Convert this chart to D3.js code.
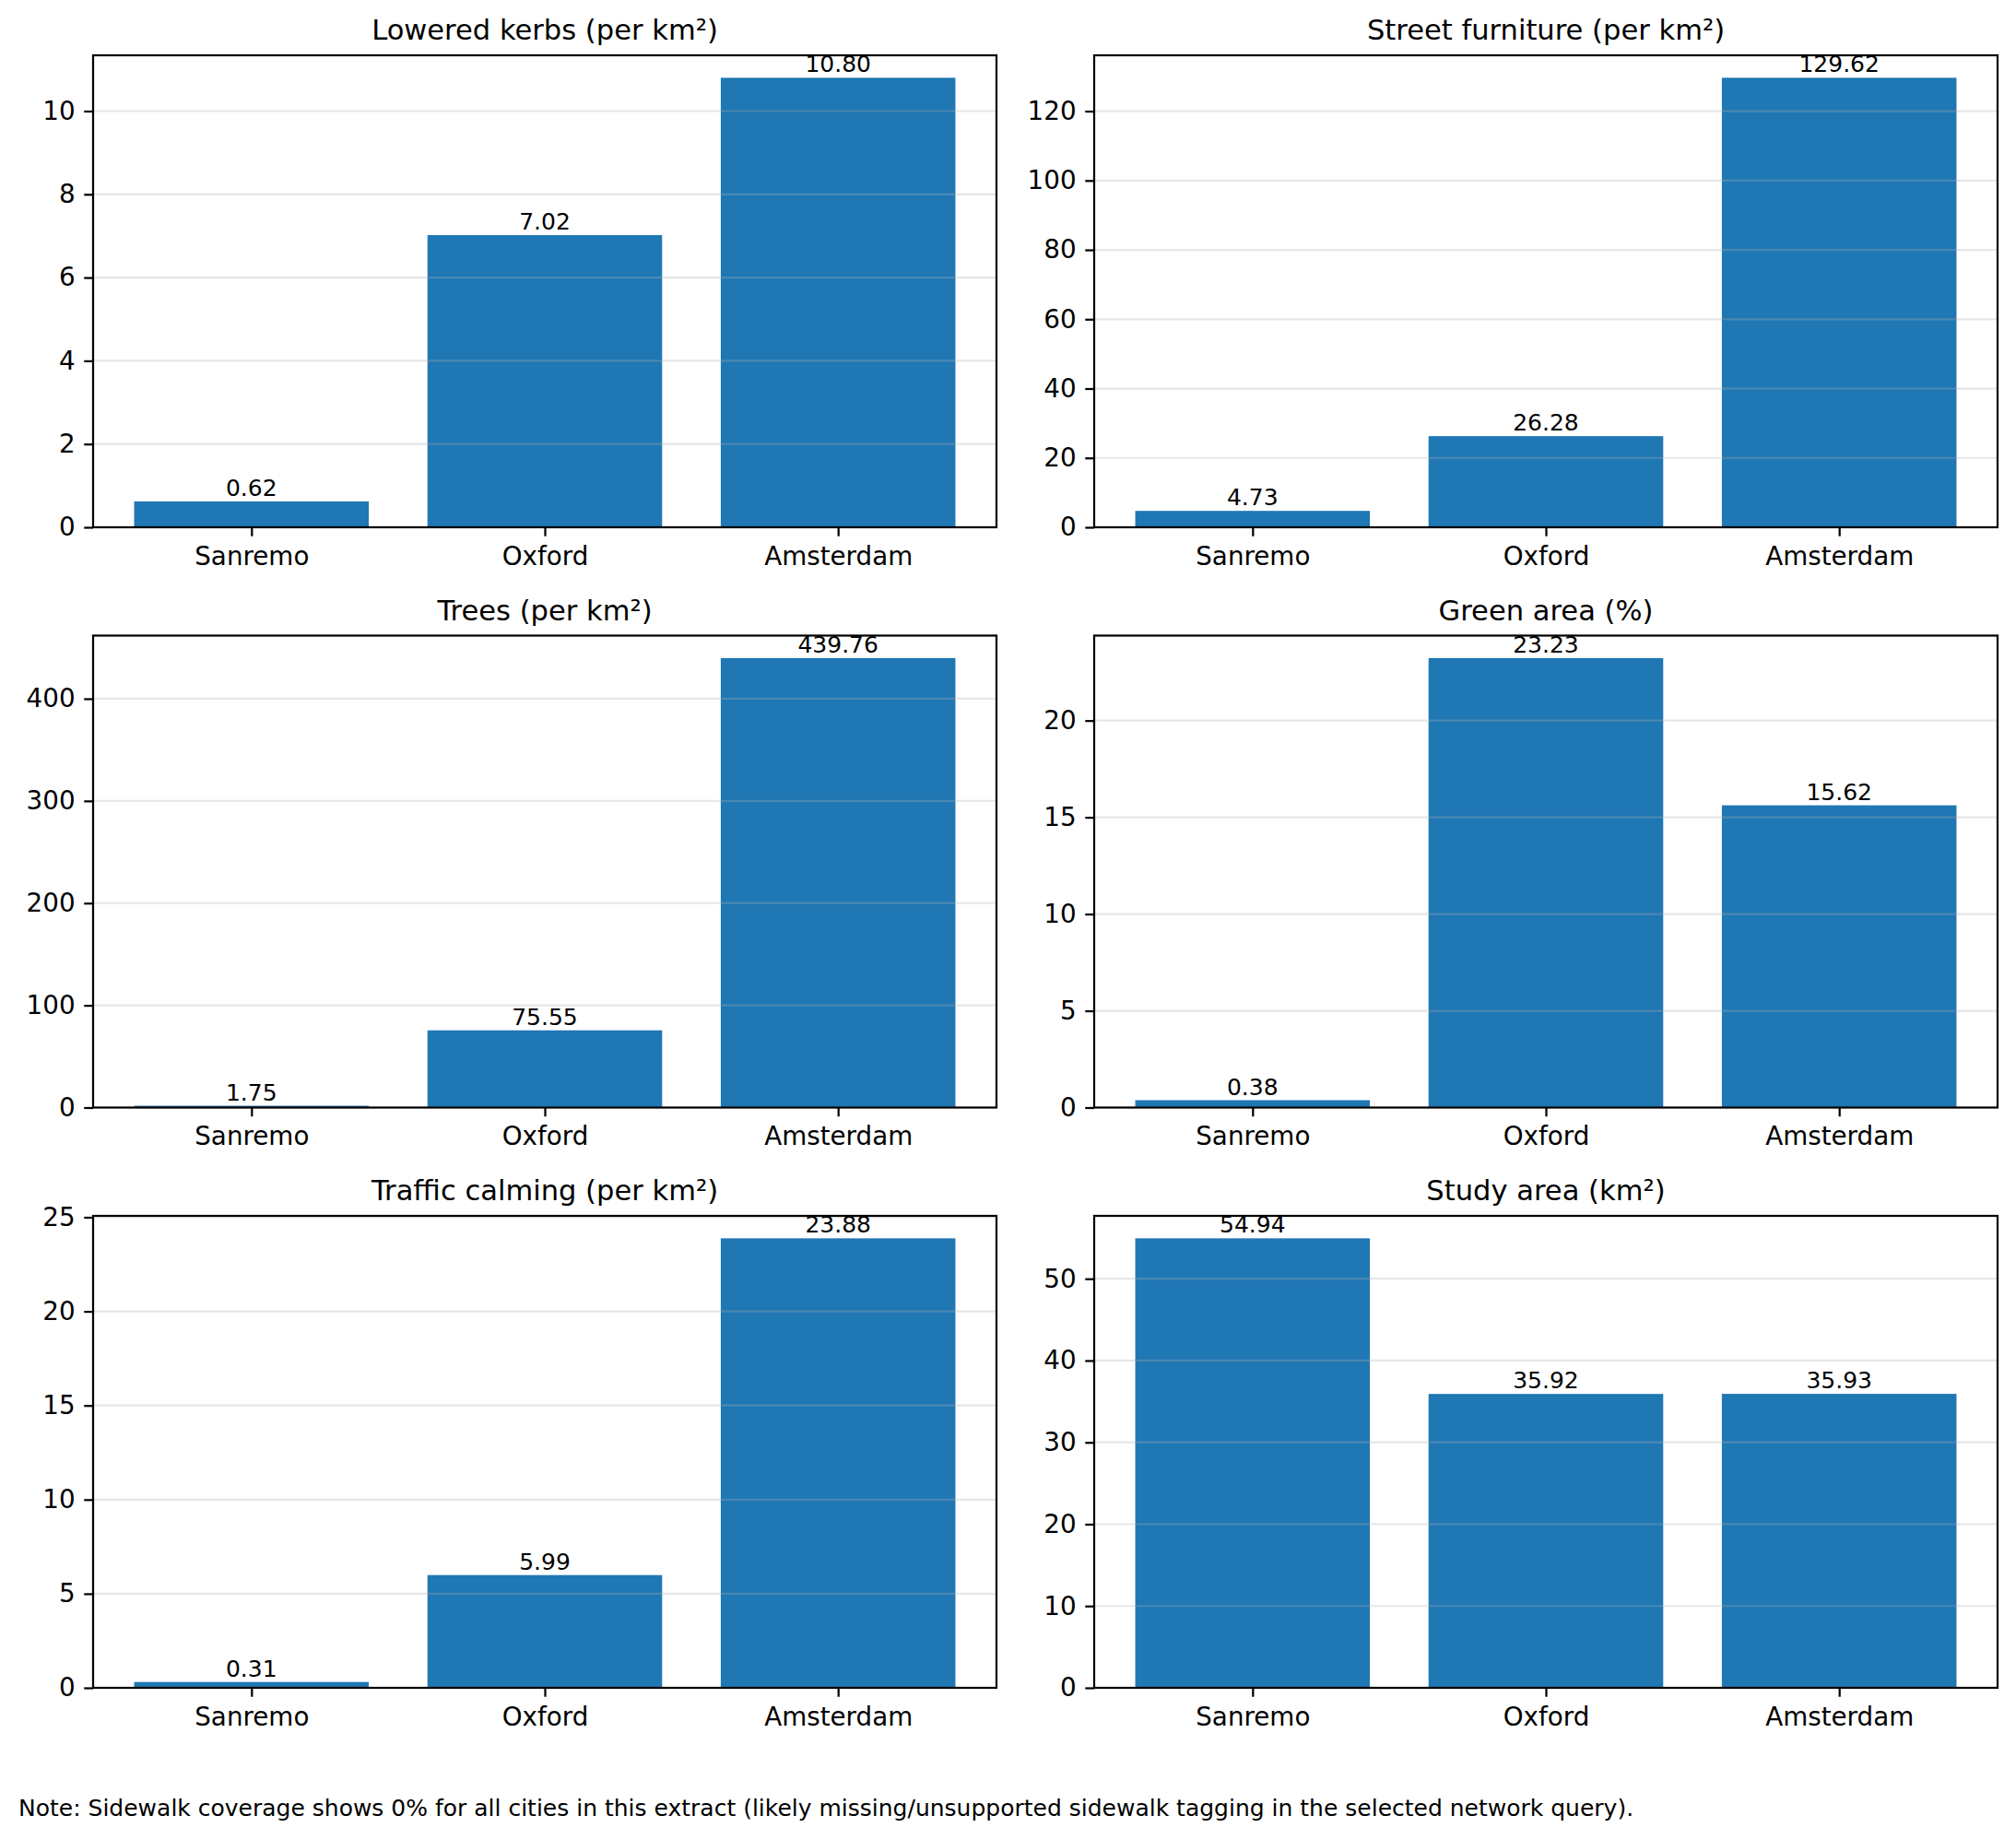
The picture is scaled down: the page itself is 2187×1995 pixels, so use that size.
<!DOCTYPE html>
<html>
<head>
<meta charset="utf-8">
<script src="https://cdn.jsdelivr.net/npm/d3@7"></script>
<style>
	body { margin: 0; background: #fff; }
	svg { display: block; font-family: 'DejaVu Sans', sans-serif; }
</style>
</head>
<body>
<svg id="chart" width="2187" height="1995"></svg>
<script>
const cities = ['Sanremo', 'Oxford', 'Amsterdam'];

const titles = [
	'Lowered kerbs (per km²)',
	'Street furniture (per km²)',
	'Trees (per km²)',
	'Green area (%)',
	'Traffic calming (per km²)',
	'Study area (km²)'
];

const loweredKerbs = [0.62, 7.02, 10.80];
const streetFurniture = [4.73, 26.28, 129.62];
const trees = [1.75, 75.55, 439.76];
const greenArea = [0.38, 23.23, 15.62];
const trafficCalming = [0.31, 5.99, 23.88];
const studyArea = [54.94, 35.92, 35.93];

const kerbTicks = [0, 2, 4, 6, 8, 10];
const furnitureTicks = [0, 20, 40, 60, 80, 100, 120];
const treeTicks = [0, 100, 200, 300, 400];
const greenTicks = [0, 5, 10, 15, 20];
const calmingTicks = [0, 5, 10, 15, 20, 25];
const areaTicks = [0, 10, 20, 30, 40, 50];

const note = 'Note: Sidewalk coverage shows 0% for all cities in this extract (likely missing/unsupported sidewalk tagging in the selected network query).';

const panels = [
	{ title: titles[0], values: loweredKerbs, ticks: kerbTicks },
	{ title: titles[1], values: streetFurniture, ticks: furnitureTicks },
	{ title: titles[2], values: trees, ticks: treeTicks },
	{ title: titles[3], values: greenArea, ticks: greenTicks },
	{ title: titles[4], values: trafficCalming, ticks: calmingTicks },
	{ title: titles[5], values: studyArea, ticks: areaTicks }
];

const svg = d3.select('#chart');

// matplotlib at 200 dpi: 1pt = 2.78px
const pt = 200 / 72;
const colLeft = [101, 1187];
const axW = 980;
const rowTop = [60, 689.5, 1319];
const axH = 512;
const barColor = '#1f77b4';

panels.forEach((p, k) => {
	const left = colLeft[k % 2];
	const top = rowTop[Math.floor(k / 2)];
	const right = left + axW;
	const bottom = top + axH;

	const xScale = d3.scaleLinear()
		.domain([-0.54, 2.54])
		.range([left, right]);
	const yScale = d3.scaleLinear()
		.domain([0, d3.max(p.values) * 1.05])
		.range([bottom, top]);

	const g = svg.append('g').attr('class', 'panel');

	g.selectAll('rect.bar')
		.data(p.values)
		.enter()
		.append('rect')
		.attr('class', 'bar')
		.attr('x', (d, i) => xScale(i - 0.4))
		.attr('width', (d, i) => xScale(i + 0.4) - xScale(i - 0.4))
		.attr('y', d => yScale(d))
		.attr('height', d => yScale(0) - yScale(d))
		.attr('fill', barColor);

	// grid goes over the bars, like the picture
	g.selectAll('line.grid')
		.data(p.ticks)
		.enter()
		.append('line')
		.attr('class', 'grid')
		.attr('x1', left)
		.attr('x2', right)
		.attr('y1', d => yScale(d))
		.attr('y2', d => yScale(d))
		.attr('stroke', '#b0b0b0')
		.attr('stroke-opacity', 0.3)
		.attr('stroke-width', 0.8 * pt);

	g.selectAll('text.value')
		.data(p.values)
		.enter()
		.append('text')
		.attr('class', 'value')
		.attr('x', (d, i) => xScale(i))
		.attr('y', d => yScale(d) - 6)
		.attr('text-anchor', 'middle')
		.style('font-size', (9 * pt) + 'px')
		.text(d => d.toFixed(2));

	const xAxis = d3.axisBottom(xScale)
		.tickValues([0, 1, 2])
		.tickFormat(i => cities[i])
		.tickSizeOuter(0)
		.tickSize(3.5 * pt)
		.tickPadding(3.5 * pt);
	const yAxis = d3.axisLeft(yScale)
		.tickValues(p.ticks)
		.tickFormat(d3.format('d'))
		.tickSizeOuter(0)
		.tickSize(3.5 * pt)
		.tickPadding(3.5 * pt);

	const gx = g.append('g')
		.attr('transform', 'translate(0,' + bottom + ')')
		.call(xAxis);
	const gy = g.append('g')
		.attr('transform', 'translate(' + left + ',0)')
		.call(yAxis);

	[gx, gy].forEach(ax => {
		ax.select('.domain').remove();
		ax.selectAll('line').attr('stroke', '#000').attr('stroke-width', 0.8 * pt);
		ax.selectAll('text')
			.attr('fill', '#000')
			.style('font-size', (10 * pt) + 'px')
			.style('font-family', "'DejaVu Sans', sans-serif");
	});
	gx.selectAll('text').attr('dy', '0.76em');

	g.append('rect')
		.attr('x', left)
		.attr('y', top)
		.attr('width', axW)
		.attr('height', axH)
		.attr('fill', 'none')
		.attr('stroke', '#000')
		.attr('stroke-width', 0.8 * pt);

	g.append('text')
		.attr('x', (left + right) / 2)
		.attr('y', top - 6 * pt)
		.attr('text-anchor', 'middle')
		.style('font-size', (11 * pt) + 'px')
		.text(p.title);
});

svg.append('text')
	.attr('x', 20)
	.attr('y', 1970)
	.style('font-size', (9 * pt) + 'px')
	.text(note);
</script>
</body>
</html>
